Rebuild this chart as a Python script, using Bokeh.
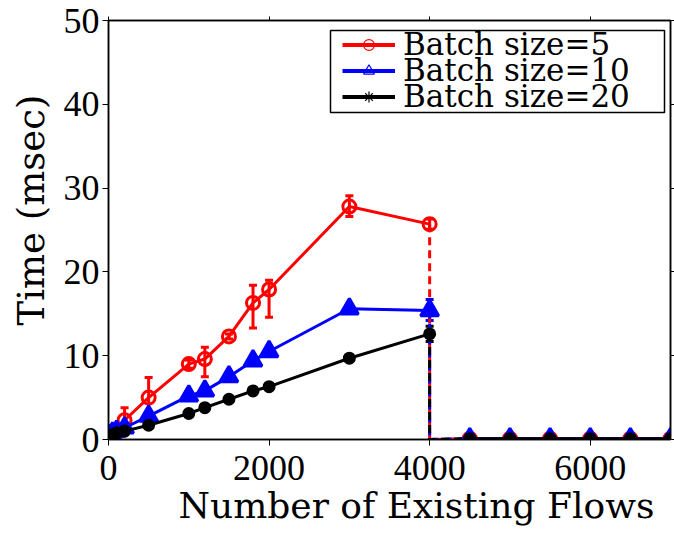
from bokeh.plotting import figure
from bokeh.models import (ColumnDataSource, Whisker, Legend, LegendItem, Range1d,
                          FixedTicker, TeeHead, LinearAxis, Title, BoxAnnotation)
from bokeh.embed import file_html
from bokeh.resources import INLINE

# ---------------- data ----------------
flows = [0, 50, 100, 200, 500, 1000, 1200, 1500, 1800, 2000, 3000, 4000]
t5 = [0.6, 0.9, 1.2, 2.3, 5.0, 9.0, 9.6, 12.3, 16.3, 17.9, 27.8, 25.7]
t5_lo = [0.4, 0.7, 1.0, 1.5, 2.6, 8.5, 7.5, 12.0, 13.3, 14.6, 26.6, 25.1]
t5_hi = [0.8, 1.1, 1.4, 3.8, 7.4, 9.5, 11.0, 12.6, 18.4, 19.0, 29.1, 26.3]
t10 = [0.5, 0.8, 1.0, 1.4, 2.8, 5.2, 5.8, 7.5, 9.4, 10.5, 15.6, 15.4]
t10_lo = [0.4, 0.7, 0.9, 1.3, 2.6, 5.0, 5.6, 7.3, 9.2, 10.3, 15.4, 14.2]
t10_hi = [0.6, 0.9, 1.1, 1.5, 3.0, 5.4, 6.0, 7.7, 9.6, 10.7, 15.8, 16.7]
t20 = [0.5, 0.6, 0.8, 1.0, 1.7, 3.1, 3.8, 4.8, 5.8, 6.3, 9.7, 12.6]
t20_lo = [0.4, 0.5, 0.7, 0.9, 1.6, 3.0, 3.7, 4.7, 5.7, 6.2, 9.6, 11.7]
t20_hi = [0.6, 0.7, 0.9, 1.1, 1.8, 3.2, 3.9, 4.9, 5.9, 6.4, 9.8, 13.5]

flows_after = [4500, 5000, 5500, 6000, 6500, 7000]
t5_after = [0.1, 0.1, 0.1, 0.1, 0.1, 0.1]
t10_after = [0.1, 0.1, 0.1, 0.1, 0.1, 0.1]
t20_after = [0.1, 0.1, 0.1, 0.1, 0.1, 0.1]

labels = ["Batch size=5", "Batch size=10", "Batch size=20"]
x_ticks = [0, 2000, 4000, 6000]
y_ticks = [0, 10, 20, 30, 40, 50]

# ---------------- figure ----------------
p = figure(width=674, height=534, output_backend="svg", toolbar_location=None,
           x_range=Range1d(0, 7000), y_range=Range1d(0, 50),
           min_border_left=107, min_border_right=0, min_border_top=20,
           min_border_bottom=95)
p.grid.visible = False
p.outline_line_color = "black"
p.outline_line_width = 1.5
p.background_fill_color = "white"
p.border_fill_color = "white"

def style_axis(ax, labels_on=True, tick_out=6):
    ax.axis_line_width = 1.5
    ax.axis_line_color = "black"
    ax.major_tick_line_color = "black"
    ax.major_tick_line_width = 1
    ax.major_tick_out = tick_out
    ax.major_tick_in = 0
    ax.minor_tick_line_color = None
    ax.major_label_text_font = "Liberation Serif"
    if labels_on:
        ax.major_label_text_font_size = "36px"
        ax.major_label_text_color = "black"
    else:
        ax.major_label_text_font_size = "1px"
        ax.major_label_text_color = None
        ax.major_label_standoff = 0

style_axis(p.xaxis[0])
style_axis(p.yaxis[0])
p.xaxis.ticker = FixedTicker(ticks=x_ticks)
p.yaxis.ticker = FixedTicker(ticks=y_ticks)
p.xaxis.major_label_standoff = 10
p.yaxis.major_label_standoff = 3

top_ax = LinearAxis(ticker=FixedTicker(ticks=x_ticks))
style_axis(top_ax, labels_on=False, tick_out=4)
p.add_layout(top_ax, "above")
right_ax = LinearAxis(ticker=FixedTicker(ticks=y_ticks))
style_axis(right_ax, labels_on=False, tick_out=4)
p.add_layout(right_ax, "right")

# axis titles (offset like the reference)
xlab = Title(text="Number of Existing Flows", align="left", offset=70,
             text_font="DejaVu Serif", text_font_size="36px",
             text_font_style="normal", text_color="black", standoff=0)
p.add_layout(xlab, "below")
ylab = Title(text="Time (msec)", align="left", offset=114,
             text_font="DejaVu Serif", text_font_size="37px",
             text_font_style="normal", text_color="black", standoff=15)
p.add_layout(ylab, "left")

series = [
    (t5, t5_lo, t5_hi, t5_after, "#ff0000", "circle", 13, False),
    (t10, t10_lo, t10_hi, t10_after, "#0000ff", "triangle", 18, True),
    (t20, t20_lo, t20_hi, t20_after, "#000000", "circle", 10, True),
]

for ys, lo, hi, after, color, marker, size, filled in series:
    src = ColumnDataSource(dict(x=flows, y=ys, lo=lo, hi=hi))
    p.line("x", "y", source=src, line_color=color, line_width=3)
    p.scatter("x", "y", source=src, marker=marker, size=size,
              line_color=color, line_width=3,
              fill_color=color if filled else None)
    wk = Whisker(base="x", lower="lo", upper="hi", source=src,
                 line_color=color, line_width=3,
                 upper_head=TeeHead(size=8, line_color=color, line_width=3),
                 lower_head=TeeHead(size=8, line_color=color, line_width=3))
    p.add_layout(wk)
    drop_x = [flows[-1], flows[-1], flows_after[0]]
    drop_y = [ys[-1], 0, after[0]]
    p.line(drop_x, drop_y, line_color=color, line_width=3, line_dash="8 5")
    src2 = ColumnDataSource(dict(x=flows_after, y=after))
    p.line("x", "y", source=src2, line_color=color, line_width=3)
    p.scatter("x", "y", source=src2, marker=marker, size=size,
              line_color=color, line_width=3,
              fill_color=color if filled else None)

# ---------------- legend (compact rows, as in the reference) ----------------
legend_box = BoxAnnotation(left=222, right=556, top=409, bottom=327,
                           left_units="screen", right_units="screen",
                           top_units="screen", bottom_units="screen",
                           fill_color="white", fill_alpha=1.0,
                           line_color="black", line_width=1.5, line_alpha=1.0)
p.add_layout(legend_box)

nan = [float("nan")]
row_bottoms = [377, 351, 325]
for lab, color, marker, vy in zip(labels, ["#ff0000", "#0000ff", "#000000"],
                                  ["circle", "triangle", "asterisk"], row_bottoms):
    lr = p.line(nan, nan, line_color=color, line_width=4)
    sr = p.scatter(nan, nan, marker=marker, line_color=color, line_width=1.2,
                   fill_color=None, size=12)
    lg = Legend(items=[LegendItem(label=lab, renderers=[lr, sr])],
                location=(234, vy),
                label_text_font="DejaVu Serif", label_text_font_size="31px",
                label_text_color="black",
                glyph_width=53, glyph_height=27, label_height=20,
                label_standoff=8, spacing=0, padding=0, margin=0,
                border_line_color=None, background_fill_alpha=0.0)
    p.add_layout(lg)

open("out.html", "w").write(file_html(p, INLINE))
